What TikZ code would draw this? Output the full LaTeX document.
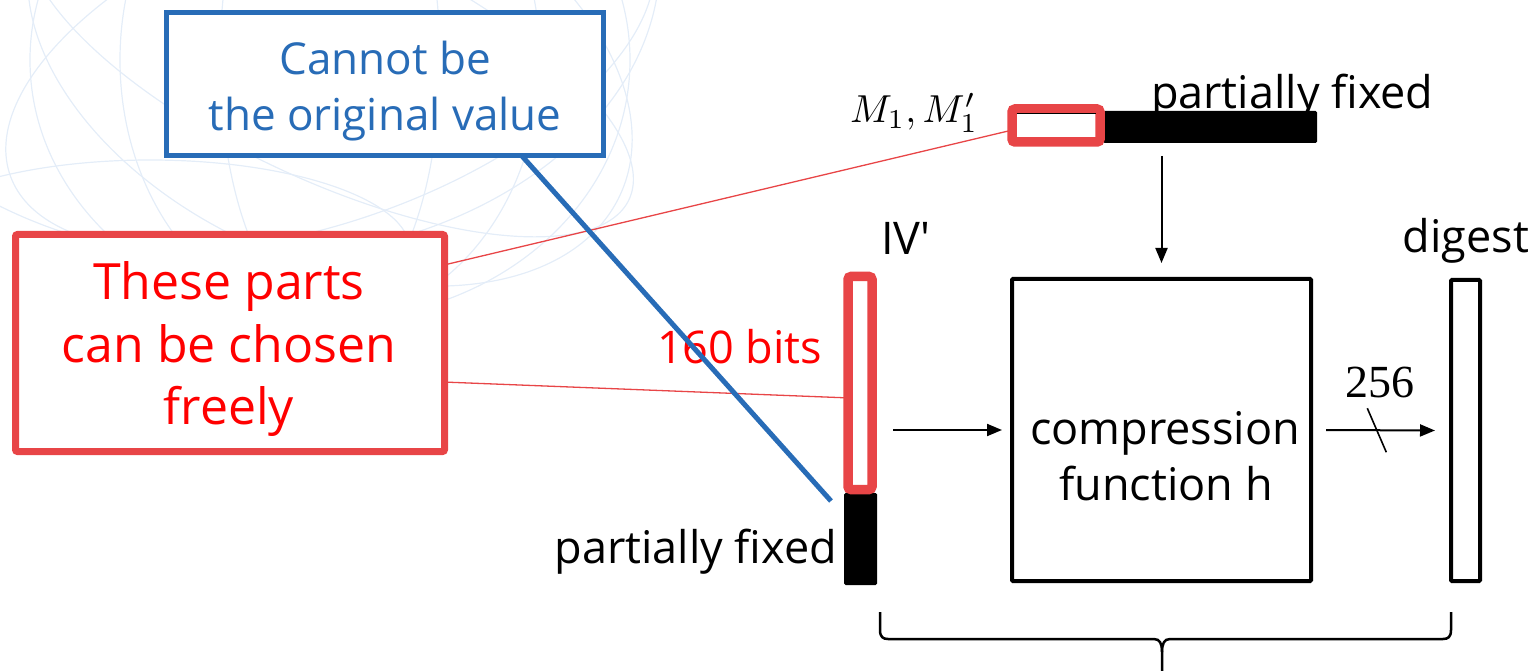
\documentclass[tikz,border=0pt]{standalone}
\usepackage{fontspec}
\setmainfont{Open Sans}
\newfontfamily\digitfont{Liberation Serif}
\usetikzlibrary{arrows.meta,calc}
\definecolor{calloutblue}{RGB}{40,108,183}
\definecolor{calloutred}{RGB}{232,69,71}
\definecolor{labelred}{RGB}{255,0,0}
\definecolor{globeline}{RGB}{228,237,248}
\newcommand{\fsz}[1]{\fontsize{#1}{#1}\selectfont}

\begin{document}
\begin{tikzpicture}[x=1pt,y=-1pt,
  txt/.style={inner sep=0pt, outer sep=0pt, anchor=base},
  plain/.style={txt, text=black, font=\fsz{45}},
  bluebox/.style={draw=calloutblue, line width=5pt, inner sep=0pt, outer sep=0pt, fill=white},
  redbox/.style={draw=calloutred, line width=7pt, inner sep=0pt, outer sep=0pt, rounded corners=2pt, fill=white},
  redmark/.style={draw=calloutred, line width=9.5pt, inner sep=0pt, outer sep=0pt, rounded corners=3pt, fill=white},
  blackbar/.style={fill=black, inner sep=0pt, outer sep=0pt, rounded corners=1.5pt},
  block/.style={draw=black, line width=4pt, inner sep=0pt, outer sep=0pt, rounded corners=1pt},
  arr/.style={line width=2pt, -{Triangle[length=15pt,width=12pt]}},
  pointer/.style={draw=calloutred, line width=1.3pt},
  globe/.style={draw=globeline, line width=1.2pt}
]
\useasboundingbox (0,0) rectangle (1535,671);

% faint wire globe in the upper left corner
\begin{scope}
  \clip (0,0) rectangle (680,320);
  \draw[globe] (330,60) circle [x radius=300, y radius=260];
  \draw[globe] (330,60) circle [x radius=210, y radius=260];
  \draw[globe] (330,60) circle [x radius=110, y radius=260];
  \draw[globe, rotate around={-25:(330,60)}] (330,60) circle [x radius=330, y radius=120];
  \draw[globe, rotate around={-25:(330,60)}] (330,60) circle [x radius=320, y radius=200];
  \draw[globe, rotate around={20:(330,60)}] (330,60) circle [x radius=340, y radius=160];
  \draw[globe] (150,250) circle [x radius=260, y radius=90];
  \draw[globe] (240,-40) circle [x radius=420, y radius=300];
\end{scope}

% callout boxes
\node[bluebox, minimum width=437, minimum height=143] (orig) at (385,84) {};
\node[txt, text=calloutblue, font=\fsz{44}] (origA) at (385,75) {Cannot be};
\node[txt, text=calloutblue, font=\fsz{44}] (origB) at (385,131) {the original value};

\node[redbox, minimum width=429, minimum height=217] (free) at (230,343) {};
\node[txt, text=labelred, font=\fsz{50}] (freeA) at (229,300) {These parts};
\node[txt, text=labelred, font=\fsz{50}] (freeB) at (229,362) {can be chosen};
\node[txt, text=labelred, font=\fsz{50}] (freeC) at (229,424) {freely};

% message block M1
\node[blackbar, minimum width=214, minimum height=32] (mbar) at (1210,127) {};
\node[redmark, minimum width=88, minimum height=33] (mred) at (1056,125.5) {};
\draw[line width=1.5pt] ([shift={(4.5pt,-4.5pt)}]mred.north west) -- ([shift={(-4.5pt,-4.5pt)}]mred.north east);
\node[txt] (mlabel) at (914,123) {\scalebox{3.9}{$M_1, M_1'$}};
\node[plain, anchor=base west] (mfixed) at (1151,109) {partially fixed};

% chaining value IV'
\node[blackbar, minimum width=33, minimum height=92] (ivfix) at (860.5,539) {};
\node[redmark, minimum width=24, minimum height=213] (ivred) at (860,383) {};
\node[plain, anchor=base west] (ivlabel) at (881,255) {IV\textquotesingle};
\node[plain, anchor=base east] (ivfixed) at (837,563) {partially fixed};
\node[txt, text=labelred, font=\fsz{45}, anchor=base west] (bits) at (657,363) {160 bits};

% compression function and digest
\node[block, minimum width=299, minimum height=302] (comp) at (1161.5,430) {};
\node[plain] (compA) at (1165,444) {compression};
\node[plain] (compB) at (1166,500) {function h};
\node[block, minimum width=29, minimum height=301] (dig) at (1465.5,430.5) {};
\node[plain] (diglabel) at (1466,253) {digest};

% data flow
\draw[arr] ([yshift=-13pt]comp.north |- mbar.south) -- ([yshift=16pt]comp.north);
\draw[arr] ([xshift=21pt]ivred.east |- comp.west) -- ([xshift=-10pt]comp.west);
\draw[arr] ([xshift=15pt]comp.east) -- ([xshift=-16pt]dig.west);
\path (comp.east) -- (dig.west) coordinate[pos=0.47] (cut);
\draw[line width=1.6pt] ([shift={(-9.5pt,22pt)}]cut) -- ([shift={(9.5pt,-22pt)}]cut);
\node[txt, font=\digitfont\fsz{46}] (width) at (1380,397) {256};

% callout pointers
\draw[pointer] ($(free.north east)!0.14!(free.south east)$) -- ($(mred.north west)!0.64!(mred.south west)$);
\draw[pointer] ($(free.north east)!0.68!(free.south east)$) -- ($(ivred.north west)!0.57!(ivred.south west)$);
\draw[calloutblue, line width=5pt] ([xshift=-82pt]orig.south east) -- ([shift={(-13pt,-8pt)}]ivfix.north west);

% brace under the compression step
\draw[line width=2.5pt] (880,612) -- (880,630) .. controls (880,637) and (883,639) .. (888,639) -- (1154,639)
  .. controls (1160,639) and (1162,644) .. (1162,652) -- (1162,671);
\draw[line width=2.5pt] (1451,612) -- (1451,630) .. controls (1451,637) and (1448,639) .. (1443,639) -- (1170,639)
  .. controls (1164,639) and (1162,644) .. (1162,652);
\end{tikzpicture}
\end{document}
